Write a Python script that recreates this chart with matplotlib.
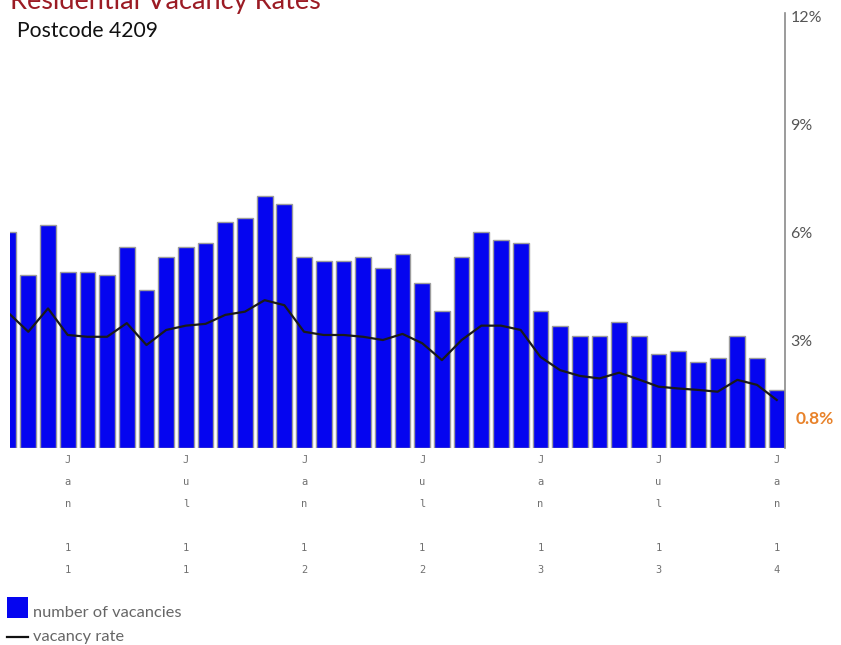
import matplotlib
matplotlib.use("Agg")
import matplotlib.pyplot as plt
from matplotlib.patches import Rectangle
from matplotlib.lines import Line2D

# Monthly series, Oct 2010 - Jan 2014
vacancies = [60, 48, 62, 49, 49, 48, 56, 44, 53, 56,
             57, 63, 64, 70, 68, 53, 52, 52, 53, 50,
             54, 46, 38, 53, 60, 58, 57, 38, 34, 31,
             31, 35, 31, 26, 27, 24, 25, 31, 25, 16]
vacancy_rate = [3.75, 3.23, 3.88, 3.14, 3.09, 3.09, 3.47, 2.86, 3.28, 3.40,
                3.45, 3.70, 3.79, 4.11, 3.97, 3.23, 3.14, 3.14, 3.09, 3.00,
                3.17, 2.91, 2.44, 3.00, 3.40, 3.40, 3.28, 2.53, 2.16, 2.00,
                1.93, 2.09, 1.90, 1.70, 1.65, 1.61, 1.56, 1.89, 1.75, 1.33]
tick_index = [3, 9, 15, 21, 27, 33, 39]
tick_text = ["Jan 11", "Jul 11", "Jan 12", "Jul 12", "Jan 13", "Jul 13", "Jan 14"]
rate_ticks = [3, 6, 9, 12]
rate_tick_labels = ["3%", "6%", "9%", "12%"]
current_rate = 0.8

W, H = 841, 645
fig = plt.figure(figsize=(W / 100, H / 100), dpi=100)
fig.patch.set_facecolor("white")

left, right, bottom, top = 10, 785, 447.7, 13
ax = fig.add_axes([left / W, 1 - bottom / H, (right - left) / W, (bottom - top) / H])

x = list(range(len(vacancies)))
ax.bar(x, vacancies, width=0.8, color="#0505f0", edgecolor="#9c9c9c", linewidth=1.0, zorder=2)
ax.set_xlim(0.07, len(x) - 1 + 0.42)
ax.set_ylim(0, 121.1)
ax.set_yticks([])
for s in ["left", "top", "bottom", "right"]:
    ax.spines[s].set_visible(False)

# vertical, one-character-per-line month labels
stacked = ["\n".join(list(t)) for t in tick_text]
ax.set_xticks(tick_index)
ax.set_xticklabels(stacked, family="DejaVu Sans Mono", fontsize=7.5, color="#707070",
                   linespacing=2.5, va="top")
ax.tick_params(axis="x", length=0, pad=5)

# vacancy rate on the right-hand axis
ax2 = ax.twinx()
ax2.plot(x, vacancy_rate, color="#1a1a1a", linewidth=1.6, zorder=3)
ax2.set_ylim(0, 12.11)
ax2.set_yticks(rate_ticks)
ax2.set_yticklabels(rate_tick_labels, family="Lato", fontsize=11.5, color="#555555")
ax2.tick_params(axis="y", length=0, pad=4)
for s in ["left", "top", "bottom"]:
    ax2.spines[s].set_visible(False)
ax2.spines["right"].set_color("#8a8a8a")
ax2.spines["right"].set_linewidth(1.2)
ax2.text(1.014, current_rate, f"{current_rate}%", transform=ax2.get_yaxis_transform(),
         ha="left", va="center", family="Lato", fontsize=12.5, color="#e8822a",
         fontweight="bold")

# titles
fig.text(10 / W, 1 - 9 / H, "Residential Vacancy Rates", family="Lato", fontsize=19.5,
         color="#9b1b24", ha="left", va="baseline")
fig.text(17 / W, 1 - 31 / H, "Postcode 4209", family="Lato", fontsize=15.2,
         color="#111111", ha="left", va="center")

# legend
fig.patches.append(Rectangle((7 / W, 1 - 618 / H), 21 / W, 21 / H, transform=fig.transFigure,
                             facecolor="#0505f0", edgecolor="none"))
fig.text(33 / W, 1 - 613 / H, "number of vacancies", family="Lato", fontsize=11.8,
         color="#666666", ha="left", va="center")
fig.lines.append(Line2D([7 / W, 28 / W], [1 - 637 / H, 1 - 637 / H], transform=fig.transFigure,
                        color="#111111", linewidth=1.6))
fig.text(33 / W, 1 - 637 / H, "vacancy rate", family="Lato", fontsize=11.8,
         color="#666666", ha="left", va="center")

fig.savefig("out.png", dpi=100)
